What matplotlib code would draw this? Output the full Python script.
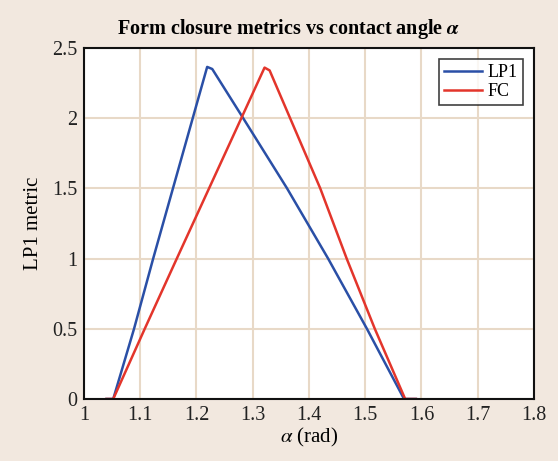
import matplotlib
matplotlib.use("Agg")
import matplotlib.pyplot as plt

# values
alpha_lp1 = [1.040, 1.052, 1.089, 1.123, 1.219, 1.228, 1.283, 1.361, 1.434, 1.503, 1.569, 1.590]
lp1 = [0, 0, 0.5, 1.0, 2.365, 2.35, 2.0, 1.5, 1.0, 0.5, 0, 0]

alpha_fc = [1.040, 1.052, 1.108, 1.165, 1.321, 1.330, 1.420, 1.467, 1.517, 1.571, 1.590]
fc = [0, 0, 0.5, 1.0, 2.36, 2.34, 1.5, 1.0, 0.5, 0, 0]

x_ticks = [1, 1.1, 1.2, 1.3, 1.4, 1.5, 1.6, 1.7, 1.8]
x_labels = ["1", "1.1", "1.2", "1.3", "1.4", "1.5", "1.6", "1.7", "1.8"]
y_ticks = [0, 0.5, 1, 1.5, 2, 2.5]
y_labels = ["0", "0.5", "1", "1.5", "2", "2.5"]

plt.rcParams['font.family'] = ['Liberation Serif', 'DejaVu Serif']
plt.rcParams['mathtext.fontset'] = 'stix'

BG = '#f2e8df'
GRID = '#e8d9c7'

fig = plt.figure(figsize=(5.58, 4.61), dpi=100, facecolor=BG)
ax = fig.add_axes([0.1505, 0.1345, 0.8065, 0.7615])
ax.set_facecolor('white')

ax.plot(alpha_lp1, lp1, color='#2a4fa6', lw=1.8, label='LP1')
ax.plot(alpha_fc, fc, color='#e3352b', lw=1.8, label='FC')

ax.set_xlim(1, 1.8)
ax.set_ylim(0, 2.5)
ax.set_xticks(x_ticks, x_labels)
ax.set_yticks(y_ticks, y_labels)
ax.tick_params(length=0, labelsize=14.5, pad=5, colors='#222222')
ax.grid(True, color=GRID, lw=1.5)
ax.set_axisbelow(True)
for s in ax.spines.values():
    s.set_linewidth(1.5)
    s.set_color('#111111')

ax.set_title(r'Form closure metrics vs contact angle $\boldsymbol{\alpha}$',
             fontsize=14.5, fontweight='bold', pad=10, x=0.455)
ax.set_xlabel(r'$\alpha$ (rad)', fontsize=15, labelpad=1)
ax.set_ylabel('LP1 metric', fontsize=15, labelpad=6)

leg = ax.legend(loc='upper right', fontsize=13, frameon=True, fancybox=False,
                handlelength=2.1, borderpad=0.3, labelspacing=0.1,
                handletextpad=0.3, borderaxespad=0.6)
leg.get_frame().set_edgecolor('#111111')
leg.get_frame().set_linewidth(1.2)

fig.savefig('out.png', dpi=100, facecolor=BG)
